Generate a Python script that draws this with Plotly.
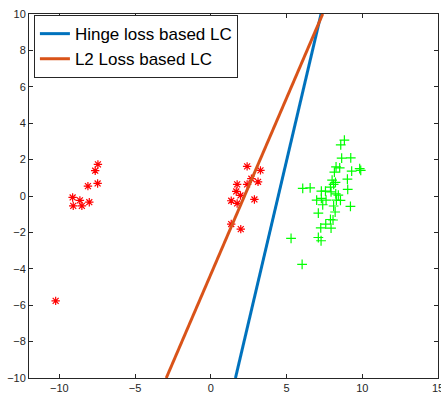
import plotly.graph_objects as go

# Red class (*)
red_x = [-7.45, -7.63, -8.11, -7.47, -9.12, -8.64, -8.02, -9.08, -8.51, -10.24,
         2.40, 3.28, 2.68, 3.12, 1.74, 2.40, 1.68, 1.96, 1.35, 1.74, 2.88, 1.35, 1.98]
red_y = [1.74, 1.39, 0.54, 0.69, -0.08, -0.24, -0.34, -0.54, -0.54, -5.76,
         1.63, 1.41, 0.95, 0.78, 0.64, 0.64, 0.25, 0.03, -0.26, -0.41, -0.19, -1.54, -1.82]

# Green class (+)
green_x = [8.82, 8.58, 8.64, 9.24, 8.27, 8.51, 9.30, 9.83, 9.90, 8.16, 9.02, 8.01, 8.23,
           8.11, 7.90, 9.04, 6.07, 6.56, 7.30, 7.57, 7.94, 8.25, 8.42, 6.99, 7.30, 7.61,
           8.29, 8.56, 7.39, 8.11, 9.22, 8.21, 7.10, 8.07, 7.90, 7.59, 7.26, 7.94, 5.30,
           7.10, 7.28, 6.03]
green_y = [3.07, 2.81, 2.08, 2.10, 1.60, 1.55, 1.37, 1.50, 1.41, 1.31, 0.93, 0.87, 0.75,
           0.64, 0.49, 0.36, 0.42, 0.45, 0.27, 0.27, 0.23, 0.12, 0.05, -0.23, -0.13, -0.23,
           -0.23, -0.24, -0.48, -0.55, -0.57, -0.88, -0.94, -1.32, -1.29, -1.54, -1.75, -1.76,
           -2.33, -2.28, -2.46, -3.76]

# Decision lines (endpoints at y = -10 and y = 10)
hinge_x = [1.63, 7.28]
hinge_y = [-10, 10]
l2_x = [-2.94, 7.39]
l2_y = [-10, 10]

x_ticks = [-10, -5, 0, 5, 10, 15]
y_ticks = [-10, -8, -6, -4, -2, 0, 2, 4, 6, 8, 10]

fig = go.Figure()
fig.add_trace(go.Scatter(x=red_x, y=red_y, mode="markers", showlegend=False,
                         marker=dict(symbol="asterisk-open", size=7, color="#FF0000",
                                     line=dict(color="#FF0000", width=1.2))))
fig.add_trace(go.Scatter(x=green_x, y=green_y, mode="markers", showlegend=False,
                         marker=dict(symbol="cross-thin-open", size=7, color="#00FF00",
                                     line=dict(color="#00FF00", width=1.2))))
fig.add_trace(go.Scatter(x=hinge_x, y=hinge_y, mode="lines", name="Hinge loss based LC",
                         line=dict(color="#0072BD", width=3)))
fig.add_trace(go.Scatter(x=l2_x, y=l2_y, mode="lines", name="L2 Loss based LC",
                         line=dict(color="#D95319", width=3)))

axis_common = dict(showgrid=False, zeroline=False, showline=True, linecolor="#262626",
                   linewidth=1, mirror="ticks", ticks="inside", ticklen=4,
                   tickcolor="#262626", ticklabeloverflow="allow", automargin=False,
                   tickfont=dict(family="Liberation Sans", size=11, color="#262626"))
fig.update_xaxes(range=[-12, 15], tickvals=x_ticks, **axis_common)
fig.update_yaxes(range=[-10, 10], tickvals=y_ticks, **axis_common)

fig.update_layout(
    width=441, height=396,
    margin=dict(l=29, r=3, t=14, b=18),
    paper_bgcolor="white", plot_bgcolor="white",
    showlegend=True,
    legend=dict(x=0.012, y=0.997, xanchor="left", yanchor="top",
                bgcolor="white", bordercolor="#262626", borderwidth=1,
                font=dict(family="Liberation Sans", size=17, color="black"),
                tracegroupgap=0, itemwidth=30),
)

fig.write_html("out.html")
